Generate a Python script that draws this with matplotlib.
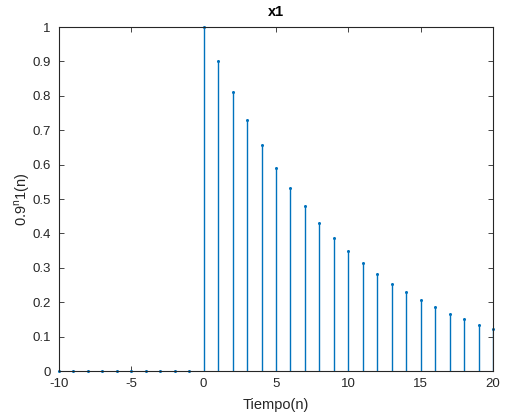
import matplotlib
matplotlib.use("Agg")
import matplotlib.pyplot as plt

n = list(range(-10, 21))
values = [0]*10 + [1.0, 0.9, 0.81, 0.729, 0.6561, 0.5905, 0.5314, 0.4783, 0.4305,
                   0.3874, 0.3487, 0.3138, 0.2824, 0.2542, 0.2288, 0.2059, 0.1853,
                   0.1668, 0.1501, 0.1351, 0.1216]
xticks = [-10, -5, 0, 5, 10, 15, 20]
yticks = [0, 0.1, 0.2, 0.3, 0.4, 0.5, 0.6, 0.7, 0.8, 0.9, 1]
yticklabels = ['0', '0.1', '0.2', '0.3', '0.4', '0.5', '0.6', '0.7', '0.8', '0.9', '1']

plt.rcParams['font.family'] = ['Liberation Sans', 'DejaVu Sans']
fig = plt.figure(figsize=(5.06, 4.18), dpi=100)
ax = fig.add_axes([59/506, 1-371/418, (493-59)/506, (371-27)/418])
c = '#0072BD'
ml, sl, bl = ax.stem(n, values, linefmt='-', markerfmt='o', basefmt=' ')
plt.setp(sl, color=c, linewidth=1.0)
plt.setp(ml, color=c, markersize=2.2, markeredgewidth=0, clip_on=False)
ax.set_xlim(-10, 20)
ax.set_ylim(0, 1)
ax.set_xticks(xticks)
ax.set_xticklabels([str(t) for t in xticks])
ax.set_yticks(yticks)
ax.set_yticklabels(yticklabels)
ax.tick_params(direction='in', top=True, right=True, labelsize=9.5, length=3.5, width=0.6, colors='#262626')
ax.tick_params(axis='y', pad=6)
ax.tick_params(axis='x', pad=5)
for s in ax.spines.values():
    s.set_linewidth(0.8)
    s.set_color('#262626')
ax.set_xlabel('Tiempo(n)', fontsize=10.5, color='#262626', labelpad=6)
ax.set_ylabel(r'0.9$^{\mathregular{n}}$1(n)', fontsize=10.5, color='#262626', labelpad=0)
ax.set_title('x1', fontsize=10.5, fontweight='bold', pad=8)
fig.savefig('out.png', dpi=100)
